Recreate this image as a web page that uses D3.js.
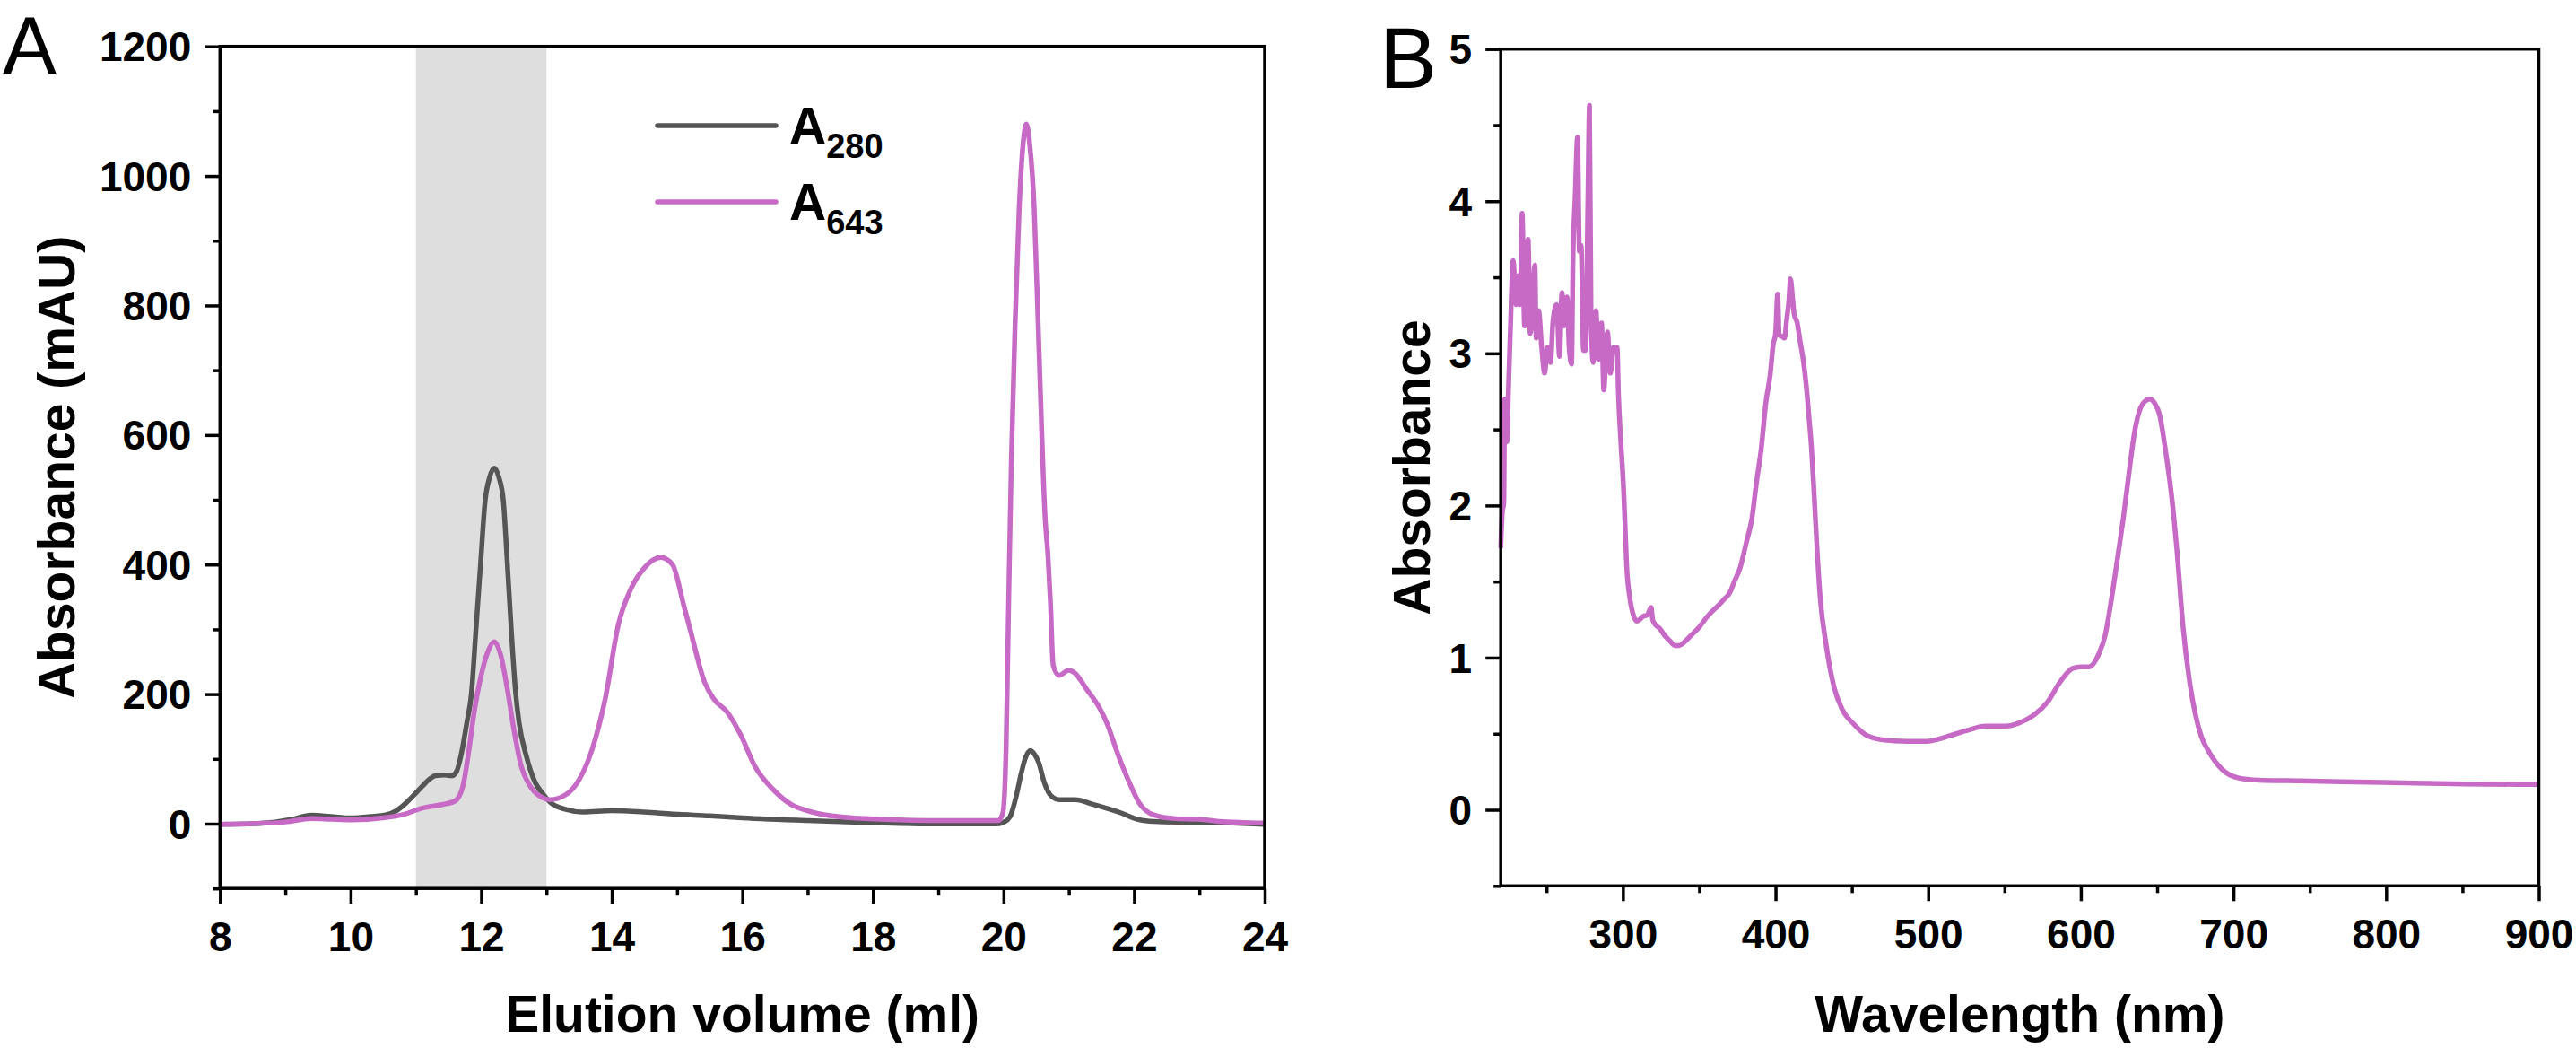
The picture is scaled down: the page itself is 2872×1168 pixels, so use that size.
<!DOCTYPE html>
<html><head><meta charset="utf-8">
<script src="https://cdn.jsdelivr.net/npm/d3@7"></script>
<style>body{margin:0;background:#fff}svg{display:block}text{font-family:"Liberation Sans",Arial,sans-serif}</style>
</head><body><svg id="c" width="2872" height="1168"></svg>
<script>
// ---- data ----
const elutionTicks=[8,10,12,14,16,18,20,22,24];
const elutionMinor=[9,11,13,15,17,19,21,23];
const mauTicks=[0,200,400,600,800,1000,1200];
const mauMinor=[-100,100,300,500,700,900,1100];
const wavelengthTicks=[300,400,500,600,700,800,900];
const wavelengthMinor=[250,350,450,550,650,750,850];
const absTicks=[0,1,2,3,4,5];
const absMinor=[-0.5,0.5,1.5,2.5,3.5,4.5];
const shadedRange=[11,13];
const legendLabels=[{base:"A",sub:"280"},{base:"A",sub:"643"}];
const a280=[[8.0,-1],[8.5,0],[8.8,2],[9.1,7],[9.4,13],[9.7,11],[10.0,9],[10.3,11],[10.55,14],[10.7,20],[10.85,32],[10.95,42],[11.1,58],[11.2,68],[11.3,74],[11.45,75],[11.55,74],[11.62,80],[11.69,105],[11.78,156],[11.85,200],[11.92,300],[11.99,400],[12.06,498],[12.13,535],[12.2,549],[12.27,535],[12.34,498],[12.39,420],[12.46,300],[12.53,200],[12.58,156],[12.69,105],[12.83,63],[12.93,48],[13.07,32],[13.3,22],[13.55,18],[14.0,20],[14.5,18],[14.93,15],[15.5,12],[16,9],[17,4.7],[18,1.5],[19,-0.5],[19.9,-0.5],[20.0,2],[20.1,11],[20.2,45],[20.26,73],[20.33,100],[20.41,113],[20.47,108],[20.54,94],[20.62,65],[20.68,50],[20.75,41],[20.85,37],[21.1,37],[21.38,29.5],[21.8,16.6],[22.08,6],[22.3,3.5],[22.64,2.6],[23,2.5],[23.5,1],[24,-1]];
const a643=[[8,-1],[8.5,0],[9.0,2.6],[9.4,8],[9.7,7],[10,6],[10.5,9],[10.8,14],[11.1,24],[11.4,29.5],[11.6,35],[11.72,58],[11.8,105],[11.9,177],[12.0,229],[12.1,265],[12.2,281],[12.3,260],[12.4,208],[12.5,146],[12.6,94],[12.75,58],[12.9,42.5],[13.05,37],[13.3,45],[13.5,68],[13.7,115],[13.9,193],[14.1,307],[14.3,364],[14.5,395],[14.75,411],[14.93,400],[15.1,338],[15.21,296],[15.42,219],[15.56,193],[15.77,172],[15.98,136],[16.19,89],[16.47,53],[16.75,29.5],[17.03,19],[17.73,8.8],[19.13,4.7],[19.92,4.7],[19.99,16.6],[20.04,120],[20.08,350],[20.12,560],[20.18,780],[20.24,950],[20.3,1050],[20.35,1080],[20.4,1050],[20.47,950],[20.54,742],[20.64,467],[20.68,415],[20.72,338],[20.76,245],[20.85,229],[21.0,237],[21.1,232],[21.27,208],[21.48,177],[21.58,156],[21.76,105],[21.93,63],[22.08,32],[22.29,14],[22.64,7.8],[22.99,7],[23.3,3.6],[24,1]];
const spectrum=[[220,1.72],[221,1.95],[222,2.02],[222.6,2.70],[223.3,2.58],[224.2,2.42],[225,2.75],[226.2,3.12],[228.1,3.61],[230.1,3.32],[231.5,3.51],[232.6,3.32],[234,3.92],[235.6,3.18],[237.9,3.75],[239.3,3.13],[242.4,3.58],[243.2,3.10],[244.8,3.28],[246.8,3.04],[248.7,2.87],[250.7,3.04],[252.6,2.94],[254.2,3.21],[256.6,3.32],[258.5,2.98],[260.1,3.40],[261.5,3.18],[263.4,3.37],[264.8,3.04],[266.4,2.93],[267.3,3.61],[268.7,4.02],[270.3,4.42],[271.5,3.67],[272.6,3.71],[274.2,3.02],[275.6,3.02],[277.1,4.02],[278.1,4.63],[279.1,3.28],[280.5,2.94],[282.4,3.28],[284,2.96],[286,3.20],[287.5,2.76],[289.9,3.14],[291.8,2.87],[293.8,3.04],[296.2,3.04],[297.1,2.73],[298.7,2.41],[300.5,2.10],[301.5,1.85],[302.5,1.60],[304.6,1.39],[307.2,1.27],[309,1.24],[311,1.25],[313,1.27],[316,1.28],[318.5,1.33],[319.5,1.25],[321,1.22],[324.3,1.19],[327,1.15],[330.8,1.11],[334,1.08],[337,1.08],[340,1.10],[344,1.14],[350,1.20],[354.5,1.26],[358,1.30],[362.3,1.34],[366,1.38],[370.2,1.43],[373,1.50],[376.8,1.59],[380.7,1.75],[384.6,1.92],[387.5,2.15],[390.6,2.37],[393.6,2.67],[396.5,2.86],[398.5,3.06],[400,3.13],[401.4,3.39],[402.4,3.12],[404.4,3.11],[405.9,3.10],[407.3,3.22],[408.7,3.34],[409.8,3.49],[411.2,3.36],[412.2,3.26],[414.2,3.20],[416.1,3.08],[418.1,2.96],[420,2.80],[422,2.57],[423.6,2.37],[425.4,2.05],[427,1.75],[429.3,1.39],[433.2,1.08],[438.5,0.80],[443.7,0.66],[451.6,0.56],[459.5,0.49],[470,0.46],[485.8,0.45],[498.9,0.45],[512,0.48],[525,0.52],[537.7,0.55],[551.2,0.55],[559.3,0.57],[570.2,0.63],[578.3,0.71],[586.4,0.84],[594.6,0.93],[600,0.94],[605.4,0.94],[612,1.03],[616,1.15],[620,1.38],[624,1.65],[628,1.93],[632,2.25],[635,2.47],[638,2.61],[641.5,2.68],[645.3,2.70],[648.5,2.67],[651.5,2.60],[655.5,2.36],[659.5,2.06],[663,1.70],[667,1.20],[671,0.86],[675,0.63],[679,0.48],[684,0.38],[692.1,0.27],[703,0.21],[716.5,0.195],[743.6,0.19],[797.8,0.18],[852,0.17],[900,0.166]];

// ---- drawing ----
const GRAY="#555555", PINK="#C66AC6";
const svg=d3.select("#c");
svg.append("rect").attr("width",2872).attr("height",1168).attr("fill","#fff");

function panel(o){
  const x=d3.scaleLinear().domain(o.xd).range([o.l,o.r]);
  const y=d3.scaleLinear().domain(o.yd).range([o.b,o.t]);
  const g=svg.append("g");
  if(o.shade){
    g.append("rect").attr("x",x(o.shade[0])).attr("y",o.t).attr("width",x(o.shade[1])-x(o.shade[0])).attr("height",o.b-o.t).attr("fill","#DEDEDE");
  }
  const line=d3.line().x(d=>x(d[0])).y(d=>y(d[1])).curve(d3.curveMonotoneX);
  o.series.forEach(s=>{
    g.append("path").datum(s.data).attr("d",line).attr("fill","none").attr("stroke",s.color).attr("stroke-width",5.5).attr("stroke-linejoin","round");
  });
  const xb=g.append("g").attr("transform",`translate(0,${o.b})`)
    .call(d3.axisBottom(x).tickValues(o.xt).tickSize(17).tickSizeOuter(0).tickPadding(20).tickFormat(d3.format("d")));
  const xm=g.append("g").attr("transform",`translate(0,${o.b})`)
    .call(d3.axisBottom(x).tickValues(o.xm).tickSize(8).tickSizeOuter(0).tickFormat(""));
  const yl=g.append("g").attr("transform",`translate(${o.l},0)`)
    .call(d3.axisLeft(y).tickValues(o.yt).tickSize(17).tickSizeOuter(0).tickPadding(15).tickFormat(o.yf));
  const ym=g.append("g").attr("transform",`translate(${o.l},0)`)
    .call(d3.axisLeft(y).tickValues(o.ym).tickSize(8).tickSizeOuter(0).tickFormat(""));
  [xb,xm,yl,ym].forEach(a=>{
    a.select(".domain").remove();
    a.selectAll(".tick line").attr("stroke","#000").attr("stroke-width",3.5);
    a.selectAll(".tick text").attr("fill","#000").attr("font-size",46).attr("font-weight","bold").attr("font-family",'"Liberation Sans",Arial,sans-serif');
  });
  yl.selectAll(".tick text").attr("dy","0.35em");
  g.append("rect").attr("x",o.l).attr("y",o.t).attr("width",o.r-o.l).attr("height",o.b-o.t)
    .attr("fill","none").attr("stroke","#000").attr("stroke-width",3.5);
  g.append("text").attr("x",(o.l+o.r)/2).attr("y",1150).attr("text-anchor","middle")
    .attr("font-size",57).attr("font-weight","bold").text(o.xtitle);
  g.append("text").attr("transform",`translate(${o.ytx},${(o.t+o.b)/2}) rotate(-90)`).attr("text-anchor","middle")
    .attr("font-size",57).attr("font-weight","bold").text(o.ytitle);
  g.append("text").attr("x",o.lab[0]).attr("y",o.lab[1]).attr("font-size",o.labSize).text(o.label);
  return {x,y,g};
}

panel({xd:[8,24],yd:[-100,1200],l:245.3,r:1410,t:51.7,b:990.2,
  xt:elutionTicks,xm:elutionMinor,yt:mauTicks,ym:mauMinor,yf:d3.format("d"),
  shade:shadedRange,
  series:[{data:a280,color:GRAY},{data:a643,color:PINK}],
  xtitle:"Elution volume (ml)",ytitle:"Absorbance (mAU)",ytx:83,label:"A",lab:[3,82],labSize:90});

panel({xd:[220,900],yd:[-0.5,5],l:1673.2,r:2830.5,t:54.7,b:987.3,
  xt:wavelengthTicks,xm:wavelengthMinor,yt:absTicks,ym:absMinor,yf:d3.format("d"),
  series:[{data:spectrum,color:PINK}],
  xtitle:"Wavelength (nm)",ytitle:"Absorbance",ytx:1594,label:"B",lab:[1538,98],labSize:96});

// legend (panel A)
const legY=[140,225];
legendLabels.forEach((d,i)=>{
  const c=i===0?GRAY:PINK;
  svg.append("line").attr("x1",733).attr("x2",865).attr("y1",legY[i]).attr("y2",legY[i])
    .attr("stroke",c).attr("stroke-width",5.5).attr("stroke-linecap","round");
  const t=svg.append("text").attr("x",880).attr("y",legY[i]+19.5).attr("font-size",57).attr("font-weight","bold");
  t.append("tspan").text(d.base);
  t.append("tspan").attr("dy",16).attr("font-size",38).text(d.sub);
});
</script></body></html>
